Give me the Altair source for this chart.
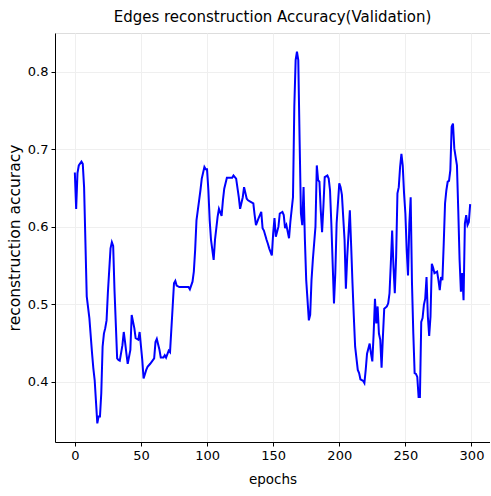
import altair as alt
import pandas as pd

# Validation accuracy of edge reconstruction, sampled per epoch
epochs = [
    0, 1, 2, 3, 5, 6, 7, 9, 11, 13, 14, 15, 17, 18, 19, 20, 21, 22, 23, 24,
    25, 27, 28, 29, 30, 32, 33, 34, 36, 37, 38, 39, 40, 42, 43, 45, 46, 48, 49, 51,
    52, 54, 55, 57, 60, 61, 62, 64, 65, 67, 68, 69, 71, 72, 74, 75, 76, 77, 79, 81,
    84, 86, 87, 89, 90, 91, 92, 94, 95, 96, 98, 99, 100, 101, 102, 103, 105, 106, 108, 109,
    111, 112, 113, 115, 117, 119, 120, 122, 124, 125, 127, 128, 130, 131, 133, 135, 136, 137, 139, 141,
    142, 143, 145, 146, 147, 149, 150, 151, 152, 154, 155, 157, 158, 159, 160, 162, 163, 165, 166, 167,
    168, 169, 170, 171, 172, 173, 174, 175, 177, 178, 179, 180, 182, 183, 184, 185, 186, 187, 188, 189,
    191, 192, 193, 194, 196, 197, 198, 200, 201, 202, 204, 205, 206, 208, 209, 210, 211, 212, 214, 215,
    216, 218, 219, 220, 221, 223, 224, 225, 226, 227, 228, 229, 230, 231, 232, 233, 234, 236, 237, 238,
    239, 240, 241, 242, 243, 244, 245, 246, 247, 248, 249, 250, 251, 252, 253, 254, 255, 256, 257, 258,
    259, 260, 261, 262, 263, 264, 265, 266, 267, 268, 269, 270, 271, 272, 274, 275, 276, 277, 278, 279,
    280, 281, 282, 283, 284, 285, 286, 287, 288, 289, 290, 291, 292, 293, 294, 295, 296, 297, 298, 299,
]
accuracy = [
    0.670, 0.623, 0.669, 0.679, 0.684, 0.681, 0.651, 0.510, 0.482, 0.437, 0.417, 0.402, 0.346, 0.355, 0.355, 0.385, 0.445, 0.462, 0.469, 0.479,
    0.515, 0.572, 0.580, 0.575, 0.518, 0.430, 0.428, 0.427, 0.447, 0.464, 0.451, 0.436, 0.423, 0.441, 0.486, 0.469, 0.456, 0.454, 0.464, 0.428,
    0.404, 0.415, 0.419, 0.423, 0.430, 0.451, 0.455, 0.441, 0.431, 0.431, 0.434, 0.431, 0.440, 0.438, 0.497, 0.527, 0.530, 0.524, 0.522, 0.522,
    0.522, 0.522, 0.519, 0.529, 0.542, 0.570, 0.608, 0.634, 0.647, 0.662, 0.677, 0.674, 0.674, 0.647, 0.608, 0.583, 0.557, 0.583, 0.613, 0.623,
    0.614, 0.634, 0.649, 0.663, 0.663, 0.663, 0.666, 0.662, 0.638, 0.623, 0.638, 0.651, 0.636, 0.634, 0.632, 0.630, 0.615, 0.602, 0.611, 0.619,
    0.598, 0.595, 0.583, 0.578, 0.572, 0.563, 0.591, 0.611, 0.587, 0.600, 0.617, 0.619, 0.615, 0.598, 0.602, 0.585, 0.606, 0.638, 0.755, 0.815,
    0.826, 0.815, 0.712, 0.617, 0.602, 0.651, 0.583, 0.531, 0.479, 0.486, 0.531, 0.557, 0.600, 0.679, 0.660, 0.658, 0.621, 0.593, 0.626, 0.664,
    0.666, 0.662, 0.647, 0.604, 0.501, 0.540, 0.604, 0.656, 0.651, 0.641, 0.583, 0.520, 0.561, 0.621, 0.575, 0.527, 0.484, 0.445, 0.415, 0.411,
    0.403, 0.401, 0.398, 0.415, 0.436, 0.449, 0.436, 0.426, 0.462, 0.507, 0.475, 0.497, 0.462, 0.454, 0.418, 0.458, 0.494, 0.497, 0.501, 0.514,
    0.553, 0.595, 0.548, 0.514, 0.561, 0.643, 0.651, 0.677, 0.694, 0.679, 0.643, 0.617, 0.570, 0.537, 0.604, 0.638, 0.527, 0.462, 0.411, 0.410,
    0.406, 0.380, 0.380, 0.477, 0.482, 0.499, 0.507, 0.535, 0.484, 0.459, 0.484, 0.552, 0.547, 0.540, 0.542, 0.531, 0.518, 0.535, 0.531, 0.578,
    0.630, 0.647, 0.658, 0.659, 0.673, 0.729, 0.733, 0.701, 0.690, 0.679, 0.621, 0.557, 0.516, 0.540, 0.505, 0.604, 0.615, 0.602, 0.606, 0.629,
]

x_ticks = [0, 50, 100, 150, 200, 250, 300]
y_ticks = [0.4, 0.5, 0.6, 0.7, 0.8]

df = pd.DataFrame({"epoch": epochs, "accuracy": accuracy})

FONT = "DejaVu Sans"

axis_style = dict(
    labelFont=FONT,
    labelFontSize=13,
    labelColor="black",
    titleFont=FONT,
    titleFontWeight="normal",
    titleColor="black",
    domainColor="black",
    domainWidth=1,
    tickColor="black",
    tickSize=4,
    tickWidth=1,
    labelPadding=3,
    grid=True,
    gridColor="#efefef",
    gridWidth=1,
)

chart = (
    alt.Chart(df)
    .mark_line(color="#0000ff", strokeWidth=2, clip=True)
    .encode(
        x=alt.X(
            "epoch:Q",
            scale=alt.Scale(domain=[-15, 314], nice=False, zero=False),
            axis=alt.Axis(
                title="epochs",
                values=x_ticks,
                format="d",
                titleFontSize=13.5,
                titlePadding=10,
                **axis_style,
            ),
        ),
        y=alt.Y(
            "accuracy:Q",
            scale=alt.Scale(domain=[0.322, 0.85], nice=False, zero=False),
            axis=alt.Axis(
                title="reconstruction accuracy",
                values=y_ticks,
                format=".1f",
                titleFontSize=15.5,
                titlePadding=5,
                **axis_style,
            ),
        ),
    )
    .properties(
        width=435,
        height=409,
        title=alt.TitleParams(
            "Edges reconstruction Accuracy(Validation)",
            font=FONT,
            fontSize=15,
            fontWeight="normal",
            color="black",
            anchor="middle",
            offset=8,
        ),
        autosize=alt.AutoSizeParams(type="none"),
        padding={"left": 55, "top": 33, "right": 0, "bottom": 54},
    )
    .configure_view(stroke="black", strokeWidth=1)
    .configure(background="white")
)

chart.save("out.html", embed_options={"renderer": "svg", "actions": False})
